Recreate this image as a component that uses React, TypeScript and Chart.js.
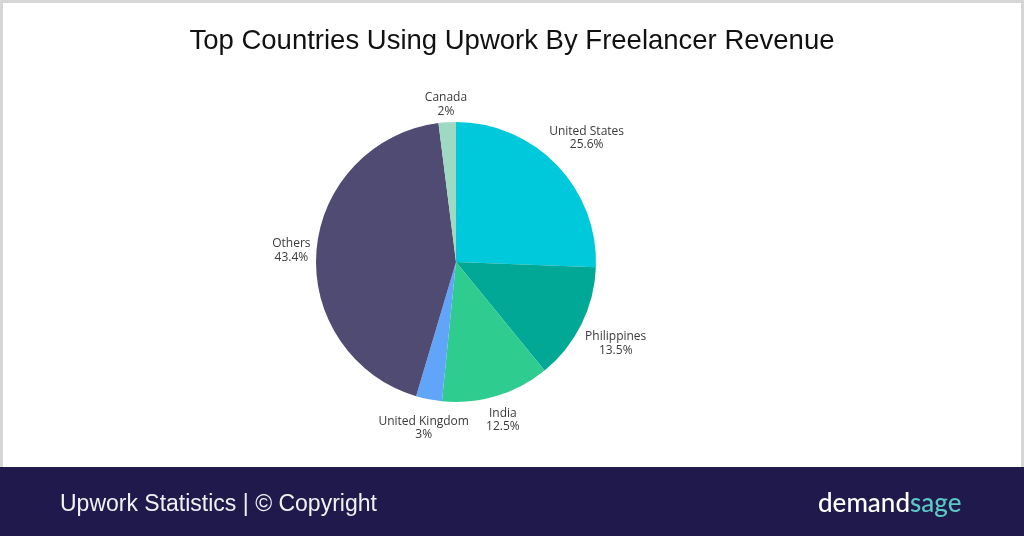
import React, { useEffect, useRef } from "react";
import { Chart, registerables } from "chart.js";

Chart.register(...registerables);

const categories = ["United States", "Philippines", "India", "United Kingdom", "Others", "Canada"];
const shares = [25.6, 13.5, 12.5, 3, 43.4, 2];
const shareLabels = ["25.6%", "13.5%", "12.5%", "3%", "43.4%", "2%"];
const sliceColors = ["#00c9db", "#00a895", "#2ecc8f", "#60a5fa", "#4f4b73", "#9dd9c3"];

const chartTitle = "Top Countries Using Upwork By Freelancer Revenue";
const footerLeft = "Upwork Statistics | © Copyright";

const outsideLabels = {
  id: "outsideLabels",
  afterDatasetsDraw(chart: any) {
    const ctx = chart.ctx;
    const meta = chart.getDatasetMeta(0);
    ctx.save();
    ctx.font = "12px 'Open Sans', sans-serif";
    ctx.fillStyle = "#3a3a3a";
    ctx.textAlign = "center";
    ctx.textBaseline = "middle";
    const lh = 13.5;
    meta.data.forEach((arc: any, i: number) => {
      const { x, y, startAngle, endAngle, outerRadius } = arc.getProps(
        ["x", "y", "startAngle", "endAngle", "outerRadius"],
        true
      );
      const mid = (startAngle + endAngle) / 2;
      const c = Math.cos(mid);
      const s = Math.sin(mid);
      const l1 = categories[i];
      const l2 = shareLabels[i];
      const w = Math.max(ctx.measureText(l1).width, ctx.measureText(l2).width);
      const h = lh * 2;
      const d = outerRadius + 5 + (w / 2) * Math.abs(c) + (h / 2) * Math.abs(s);
      const cx = x + c * d;
      const cy = y + s * d + 2;
      ctx.fillText(l1, cx, cy - lh / 2);
      ctx.fillText(l2, cx, cy + lh / 2);
    });
    ctx.restore();
  },
};

export default function App() {
  const ref = useRef<HTMLCanvasElement | null>(null);

  useEffect(() => {
    if (!ref.current) return;
    const chart = new Chart(ref.current, {
      type: "pie",
      data: {
        labels: categories,
        datasets: [
          {
            data: shares,
            backgroundColor: sliceColors,
            borderWidth: 0,
          },
        ],
      },
      options: {
        animation: false,
        responsive: false,
        layout: { padding: { top: 122, bottom: 66, left: 316, right: 428 } },
        plugins: {
          legend: { display: false },
          tooltip: { enabled: false },
          title: { display: false },
        },
      },
      plugins: [outsideLabels],
    });
    return () => chart.destroy();
  }, []);

  return (
    <div
      style={{
        position: "fixed",
        left: 0,
        top: 0,
        width: 1024,
        height: 536,
        background: "#ffffff",
        overflow: "hidden",
      }}
    >
      <canvas ref={ref} width={1024} height={468} style={{ position: "absolute", left: 0, top: 0 }} />
      <div
        style={{
          position: "absolute",
          left: 0,
          top: 0,
          width: 1024,
          height: 468,
          boxSizing: "border-box",
          border: "3px solid #d6d6d6",
          borderBottom: "none",
          pointerEvents: "none",
        }}
      />
      <div
        style={{
          position: "absolute",
          left: 0,
          top: 20,
          width: 1024,
          textAlign: "center",
          fontFamily: "'Liberation Sans', sans-serif",
          fontSize: 27.5,
          color: "#111111",
          lineHeight: "40px",
        }}
      >
        {chartTitle}
      </div>
      <div
        style={{
          position: "absolute",
          left: 0,
          top: 467,
          width: 1024,
          height: 69,
          background: "#1f1a4b",
        }}
      >
        <div
          style={{
            position: "absolute",
            left: 60,
            top: 21,
            fontFamily: "'Liberation Sans', sans-serif",
            fontSize: 23,
            color: "#f0f0f5",
            lineHeight: "30px",
            whiteSpace: "nowrap",
          }}
        >
          {footerLeft}
        </div>
        <div
          style={{
            position: "absolute",
            left: 818,
            top: 20,
            fontFamily: "Lato, sans-serif",
            fontWeight: 500,
            fontSize: 26,
            lineHeight: "30px",
            whiteSpace: "nowrap",
            letterSpacing: 0,
          }}
        >
          <span style={{ color: "#ffffff" }}>demand</span>
          <span style={{ color: "#5cc8c6" }}>sage</span>
        </div>
      </div>
    </div>
  );
}
